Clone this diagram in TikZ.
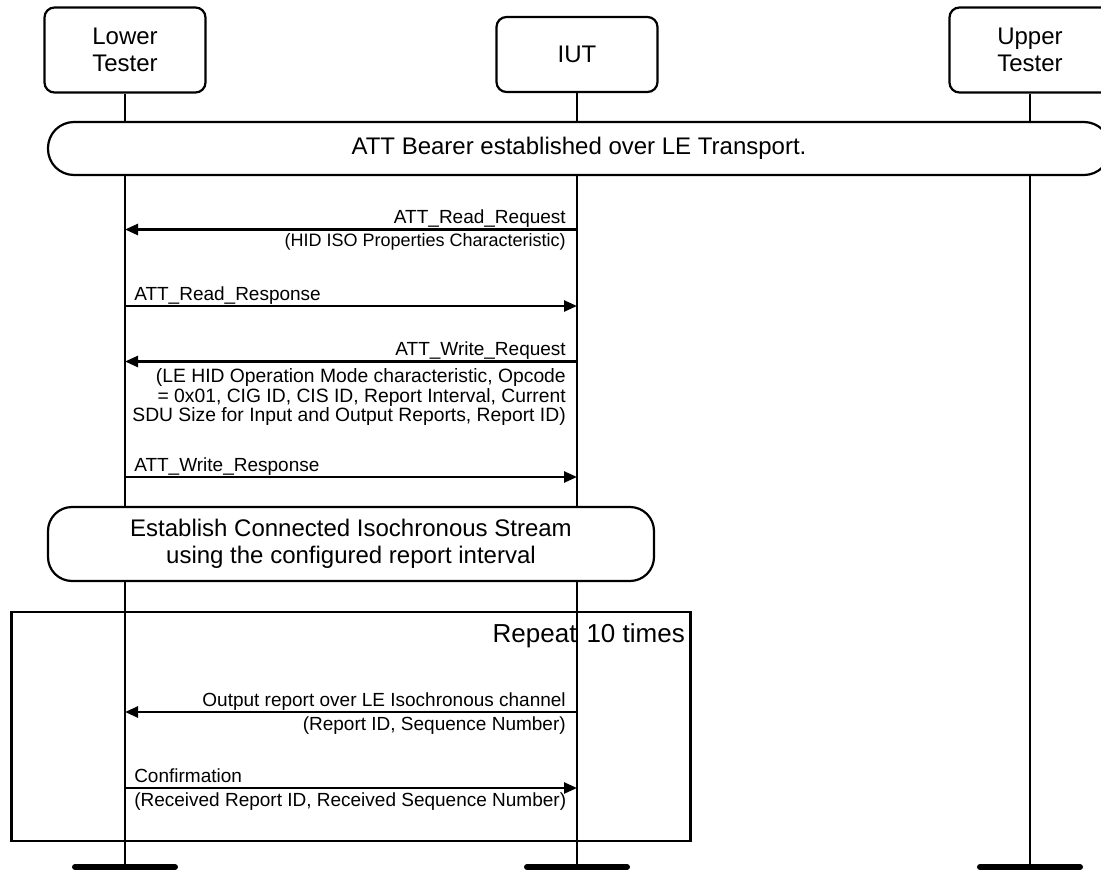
\documentclass[tikz,border=0pt]{standalone}
\usepackage{fontspec}
\setmainfont{Liberation Sans}
\usetikzlibrary{arrows.meta, positioning}

\begin{document}
\begin{tikzpicture}[
    x=1pt, y=-1pt,
    font=\fontsize{19}{20}\selectfont,
    actor/.style  ={draw, line width=2.2pt, rounded corners=10pt, align=center,
                    minimum width=161pt, minimum height=85pt, inner sep=0pt,
                    font=\fontsize{24}{27}\selectfont},
    banner/.style ={draw, line width=2.2pt, fill=white, align=center, inner sep=0pt,
                    font=\fontsize{24}{27}\selectfont},
    loopbox/.style={draw, line width=2.5pt, inner sep=0pt},
    life/.style   ={line width=2pt},
    bar/.style    ={line width=6pt, line cap=round},
    msg/.style    ={-{Triangle[length=13pt, width=11pt]}, line width=2.5pt},
    rtag/.style   ={anchor=base east, inner sep=0pt, xshift=-10pt, yshift=6pt},
    ltag/.style   ={anchor=base west, inner sep=0pt, xshift=8pt, yshift=6pt},
    rinfo/.style  ={anchor=north east, align=right, inner sep=0pt, xshift=-10pt, yshift=-3pt},
    linfo/.style  ={anchor=north west, align=left, inner sep=0pt, xshift=8pt, yshift=-3pt}
]
\useasboundingbox (0,0) rectangle (1101,870);
\clip (0,0) rectangle (1101,870);

% Actors
\node[actor] (lt) at (125,50) {Lower\\Tester};
\node[actor, minimum height=75pt] (iut) at (577,54.5) {IUT};
\node[actor] (ut) at (1030,50) {Upper\\Tester};

% Lifelines and end bars
\coordinate (lt-end)  at (125,867);
\coordinate (iut-end) at (577,867);
\coordinate (ut-end)  at (1030,867);
\draw[life] (lt.south)  -- (lt-end);
\draw[life] (iut.south) -- (iut-end);
\draw[life] (ut.south)  -- (ut-end);
\draw[bar] ([xshift=-50pt]lt-end)  -- ([xshift=50pt]lt-end);
\draw[bar] ([xshift=-50pt]iut-end) -- ([xshift=50pt]iut-end);
\draw[bar] ([xshift=-50pt]ut-end)  -- ([xshift=50pt]ut-end);

% Setup
\node[banner, rounded corners=26pt, minimum width=1062pt, minimum height=53pt]
    (bearer) at (579,148.5) {ATT Bearer established over LE Transport.};

% Message rows
\coordinate (m1) at (0,229.5);
\coordinate (m2) at (0,306);
\coordinate (m3) at (0,361.5);
\coordinate (m4) at (0,477);
\coordinate (m5) at (0,712);
\coordinate (m6) at (0,788);

\draw[msg] (iut |- m1) -- (lt |- m1)
    node[rtag, pos=0] {ATT\_Read\_Request}
    node[rinfo, pos=0, font=\fontsize{18}{20}\selectfont] {(HID ISO Properties Characteristic)};
\draw[msg] (lt |- m2) -- (iut |- m2)
    node[ltag, pos=0] {ATT\_Read\_Response};
\draw[msg] (iut |- m3) -- (lt |- m3)
    node[rtag, pos=0] {ATT\_Write\_Request}
    node[rinfo, pos=0, yshift=-3pt, font=\fontsize{19.3}{19.5}\selectfont]
        {(LE HID Operation Mode characteristic, Opcode\\
        = 0x01, CIG ID, CIS ID, Report Interval, Current\\
        SDU Size for Input and Output Reports, Report ID)};
\draw[msg] (lt |- m4) -- (iut |- m4)
    node[ltag, pos=0] {ATT\_Write\_Response};

\node[banner, rounded corners=24pt, minimum width=606pt, minimum height=74pt]
    (cis) at (351,544) {Establish Connected Isochronous Stream\\using the configured report interval};

% Repeat loop
\node[loopbox, minimum width=679pt, minimum height=229pt] (loop) at (351,726.5) {};
\node[anchor=base east, inner sep=0pt, font=\fontsize{26}{28}\selectfont]
    (rep) at (685,642) {Repeat\hspace{10pt}10 times};

\draw[msg] (iut |- m5) -- (lt |- m5)
    node[rtag, pos=0] {Output report over LE Isochronous channel}
    node[rinfo, pos=0] {(Report ID, Sequence Number)};
\draw[msg] (lt |- m6) -- (iut |- m6)
    node[ltag, pos=0] {Confirmation}
    node[linfo, pos=0] {(Received Report ID, Received Sequence Number)};

\end{tikzpicture}
\end{document}
